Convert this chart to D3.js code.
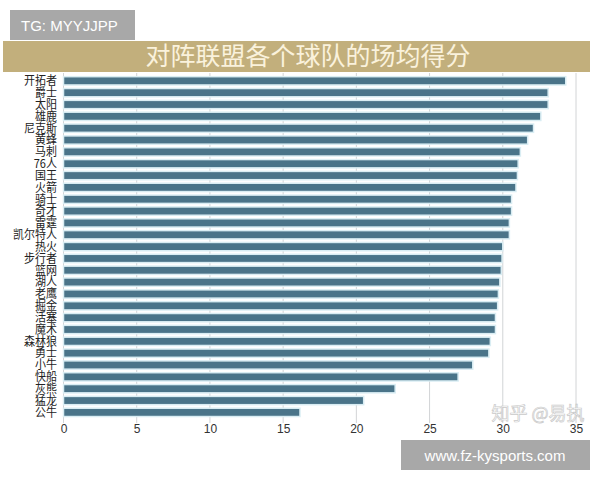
<!DOCTYPE html>
<html>
<head>
<meta charset="utf-8">
<script src="https://cdn.jsdelivr.net/npm/d3@7"></script>
<style>
  html, body { margin: 0; padding: 0; background: #fff; }
</style>
</head>
<body>
<div id="chart"></div>
<script>
const teams = ["开拓者", "爵士", "太阳", "雄鹿", "尼克斯", "黄蜂", "马刺", "76人", "国王", "火箭",
    "骑士", "奇才", "雷霆", "凯尔特人", "热火", "步行者", "篮网", "湖人", "老鹰", "掘金",
    "活塞", "魔术", "森林狼", "勇士", "小牛", "快船", "灰熊", "猛龙", "公牛"];
const ppg = [34.3, 33.1, 33.1, 32.6, 32.1, 31.7, 31.2, 31.05, 31.0, 30.9,
    30.6, 30.6, 30.45, 30.45, 30.0, 29.95, 29.9, 29.8, 29.7, 29.65,
    29.5, 29.5, 29.15, 29.05, 27.95, 26.95, 22.65, 20.5, 16.15];
const xTicks = [0, 5, 10, 15, 20, 25, 30, 35];
const title = "对阵联盟各个球队的场均得分";

const W = 600, H = 480;
const svg = d3.select("#chart").append("svg")
    .attr("width", W)
    .attr("height", H)
    .style("display", "block");

// Scales
const x = d3.scaleLinear().domain([0, 35]).range([63.5, 576]);
const y = d3.scaleBand()
    .domain(teams)
    .range([74.9, 418.3])
    .paddingInner(0.3)
    .paddingOuter(0.15);

// Title banner
svg.append("rect")
    .attr("x", 3).attr("y", 41)
    .attr("width", 587).attr("height", 31)
    .attr("fill", "#c2af7c");

svg.append("text")
    .attr("x", 308).attr("y", 65)
    .attr("text-anchor", "middle")
    .style("font-family", "'Noto Sans CJK SC', sans-serif")
    .style("font-size", "25px")
    .style("fill", "#faf2dc")
    .text(title);

// Grid lines
svg.append("g")
    .selectAll("line")
    .data(xTicks)
    .join("line")
    .attr("x1", d => x(d)).attr("x2", d => x(d))
    .attr("y1", 73).attr("y2", 423)
    .attr("stroke", "#d2d4d6")
    .attr("stroke-width", 1);

// Bars
svg.append("g")
    .selectAll("rect")
    .data(teams)
    .join("rect")
    .attr("x", x(0))
    .attr("y", d => y(d))
    .attr("width", (d, i) => x(ppg[i]) - x(0))
    .attr("height", y.bandwidth())
    .attr("fill", "#4a7489")
    .attr("stroke", "#d9edf3")
    .attr("stroke-width", 1.5);

// Team labels
svg.append("g")
    .selectAll("text")
    .data(teams)
    .join("text")
    .attr("transform", d => `translate(57,${y(d) + y.bandwidth() / 2}) scale(0.92,1)`)
    .attr("dy", "0.36em")
    .attr("text-anchor", "end")
    .style("font-family", "'Noto Sans CJK SC', sans-serif")
    .style("font-size", "12px")
    .style("fill", "#222")
    .text(d => d);

// X axis labels
const xAxis = svg.append("g")
    .attr("transform", "translate(0,420)")
    .call(d3.axisBottom(x).tickValues(xTicks).tickSize(0).tickPadding(4));
xAxis.select(".domain").remove();
xAxis.selectAll("text")
    .style("font-family", "'Liberation Sans', Arial, sans-serif")
    .style("font-size", "12px")
    .style("fill", "#333");

// Zhihu watermark
svg.append("text")
    .attr("x", 538).attr("y", 420)
    .attr("text-anchor", "middle")
    .style("font-family", "'Noto Sans CJK SC', sans-serif")
    .style("font-size", "18px")
    .style("fill", "#ffffff")
    .style("stroke", "#bcbcbc")
    .style("stroke-width", 0.7)
    .style("opacity", 0.8)
    .text("知乎 @易执");

// Top-left tag
svg.append("rect")
    .attr("x", 10).attr("y", 10)
    .attr("width", 125).attr("height", 30)
    .attr("fill", "#a8a8a8");
svg.append("text")
    .attr("x", 21).attr("y", 31)
    .style("font-family", "'Liberation Sans', Arial, sans-serif")
    .style("font-size", "15px")
    .style("fill", "#fff")
    .text("TG: MYYJJPP");

// Bottom-right site tag
svg.append("rect")
    .attr("x", 401).attr("y", 440)
    .attr("width", 189).attr("height", 30)
    .attr("fill", "#a8a8a8");
svg.append("text")
    .attr("x", 495).attr("y", 461)
    .attr("text-anchor", "middle")
    .style("font-family", "'Liberation Sans', Arial, sans-serif")
    .style("font-size", "15px")
    .style("fill", "#fff")
    .text("www.fz-kysports.com");
</script>
</body>
</html>
